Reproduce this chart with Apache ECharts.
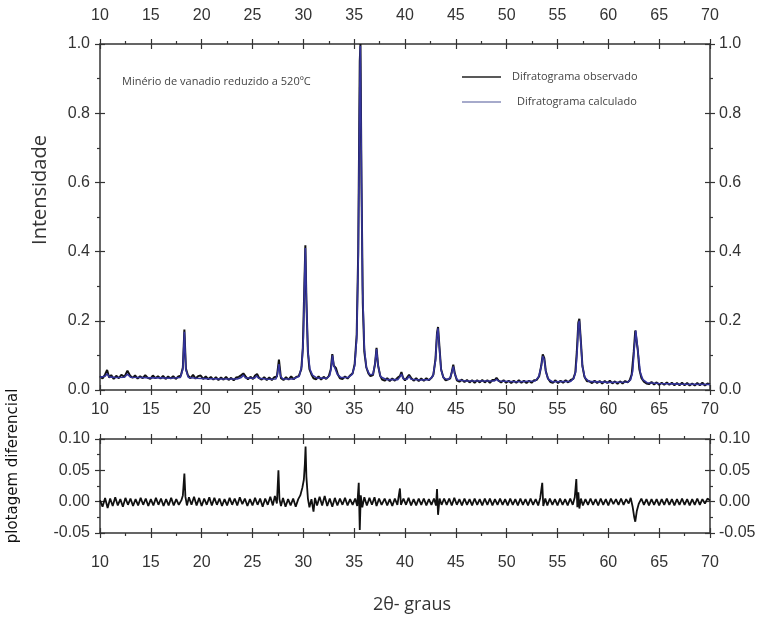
<!DOCTYPE html>
<html>
<head>
<meta charset="utf-8">
<script src="https://cdn.jsdelivr.net/npm/echarts@6/dist/echarts.min.js"></script>
<style>
html,body{margin:0;padding:0;background:#fff;}
#chart{width:769px;height:625px;}
</style>
</head>
<body>
<div id="chart"></div>
<script>
// ---- tick labels ----
var xTicks = [10, 15, 20, 25, 30, 35, 40, 45, 50, 55, 60, 65, 70];
var yTicksTop = [0.0, 0.2, 0.4, 0.6, 0.8, 1.0];
var yTicksDiff = [-0.05, 0.00, 0.05, 0.10];

// ---- series names ----
var seriesNames = ['Difratograma observado', 'Difratograma calculado', 'plotagem diferencial'];

// ---- observed diffractogram [2theta, intensity] ----
var observed = [
[10.0,0.040],[10.25,0.033],[10.5,0.045],[10.7,0.058],[10.9,0.036],[11.1,0.043],[11.35,0.032],[11.6,0.041],[11.85,0.034],[12.1,0.044],[12.4,0.038],[12.7,0.056],[12.95,0.042],[13.2,0.035],[13.45,0.042],[13.7,0.033],[13.95,0.040],[14.2,0.034],[14.45,0.043],[14.7,0.035],[14.95,0.032],[15.2,0.042],[15.45,0.034],[15.7,0.040],[15.95,0.033],[16.2,0.041],[16.45,0.032],[16.7,0.039],[16.95,0.033],[17.2,0.040],[17.45,0.032],[17.7,0.039],[17.95,0.041],[18.15,0.065],[18.3,0.175],[18.45,0.062],[18.65,0.042],[18.9,0.034],[19.15,0.044],[19.4,0.033],[19.65,0.040],[19.9,0.042],[20.15,0.032],[20.4,0.039],[20.65,0.031],[20.9,0.038],[21.15,0.030],[21.4,0.037],[21.65,0.029],[21.9,0.036],[22.15,0.030],[22.4,0.038],[22.65,0.029],[22.9,0.035],[23.15,0.028],[23.4,0.036],[23.65,0.038],[23.9,0.043],[24.1,0.048],[24.3,0.040],[24.55,0.031],[24.8,0.038],[25.05,0.032],[25.25,0.042],[25.45,0.046],[25.65,0.035],[25.9,0.030],[26.15,0.037],[26.4,0.029],[26.65,0.036],[26.9,0.029],[27.15,0.037],[27.4,0.039],[27.6,0.088],[27.8,0.034],[28.05,0.029],[28.3,0.037],[28.55,0.030],[28.8,0.039],[29.05,0.031],[29.3,0.038],[29.55,0.040],[29.8,0.060],[29.95,0.120],[30.1,0.300],[30.2,0.418],[30.3,0.260],[30.45,0.110],[30.6,0.060],[30.8,0.045],[31.0,0.034],[31.25,0.031],[31.5,0.039],[31.75,0.030],[32.0,0.038],[32.25,0.032],[32.5,0.040],[32.7,0.060],[32.85,0.104],[33.0,0.070],[33.2,0.064],[33.4,0.045],[33.6,0.034],[33.85,0.032],[34.1,0.039],[34.35,0.033],[34.6,0.042],[34.85,0.048],[35.05,0.075],[35.25,0.160],[35.4,0.400],[35.55,0.950],[35.62,1.000],[35.72,0.600],[35.85,0.250],[36.0,0.110],[36.2,0.065],[36.4,0.048],[36.6,0.040],[36.85,0.043],[37.05,0.075],[37.2,0.122],[37.35,0.072],[37.55,0.042],[37.75,0.030],[38.0,0.027],[38.25,0.034],[38.5,0.026],[38.75,0.033],[39.0,0.027],[39.25,0.035],[39.5,0.040],[39.65,0.052],[39.8,0.036],[40.0,0.028],[40.2,0.036],[40.4,0.044],[40.6,0.035],[40.85,0.027],[41.1,0.034],[41.35,0.026],[41.6,0.033],[41.85,0.027],[42.1,0.034],[42.35,0.028],[42.6,0.035],[42.8,0.045],[43.0,0.090],[43.15,0.165],[43.25,0.182],[43.4,0.120],[43.55,0.060],[43.75,0.038],[44.0,0.028],[44.25,0.031],[44.45,0.034],[44.6,0.052],[44.75,0.073],[44.9,0.048],[45.1,0.028],[45.35,0.024],[45.6,0.030],[45.85,0.023],[46.1,0.029],[46.35,0.022],[46.6,0.028],[46.85,0.021],[47.1,0.028],[47.35,0.022],[47.6,0.029],[47.85,0.022],[48.1,0.028],[48.35,0.021],[48.6,0.029],[48.85,0.029],[49.0,0.035],[49.2,0.027],[49.45,0.022],[49.7,0.028],[49.95,0.021],[50.2,0.027],[50.45,0.020],[50.7,0.027],[50.95,0.021],[51.2,0.028],[51.45,0.021],[51.7,0.027],[51.95,0.020],[52.2,0.027],[52.45,0.021],[52.7,0.028],[52.95,0.029],[53.2,0.040],[53.4,0.070],[53.55,0.103],[53.7,0.092],[53.85,0.055],[54.05,0.034],[54.3,0.023],[54.55,0.021],[54.8,0.028],[55.05,0.020],[55.3,0.027],[55.55,0.021],[55.8,0.028],[56.05,0.022],[56.3,0.029],[56.55,0.032],[56.75,0.050],[56.9,0.110],[57.05,0.195],[57.15,0.206],[57.3,0.140],[57.45,0.070],[57.65,0.038],[57.9,0.025],[58.15,0.025],[58.4,0.020],[58.65,0.027],[58.9,0.020],[59.15,0.026],[59.4,0.019],[59.65,0.026],[59.9,0.020],[60.15,0.027],[60.4,0.019],[60.65,0.025],[60.9,0.018],[61.15,0.025],[61.4,0.019],[61.65,0.026],[61.9,0.022],[62.1,0.028],[62.3,0.045],[62.5,0.110],[62.65,0.172],[62.75,0.176],[62.9,0.115],[63.05,0.060],[63.25,0.035],[63.5,0.024],[63.75,0.019],[64.0,0.017],[64.25,0.023],[64.5,0.016],[64.75,0.022],[65.0,0.015],[65.25,0.021],[65.5,0.015],[65.75,0.022],[66.0,0.015],[66.25,0.021],[66.5,0.014],[66.75,0.020],[67.0,0.014],[67.25,0.021],[67.5,0.014],[67.75,0.020],[68.0,0.013],[68.25,0.019],[68.5,0.013],[68.75,0.020],[69.0,0.014],[69.25,0.021],[69.5,0.013],[69.75,0.019],[70.0,0.016]
];

// ---- calculated diffractogram [2theta, intensity] ----
var calculated = [
[10,0.037],[10.5,0.040],[10.7,0.047],[10.9,0.038],[11.5,0.036],[12.4,0.037],[12.7,0.046],[13.0,0.037],[14,0.036],[15,0.035],[16,0.035],[17,0.034],[17.9,0.036],[18.15,0.060],[18.3,0.168],[18.45,0.058],[18.7,0.036],[19.5,0.034],[20.5,0.033],[22,0.032],[23.5,0.032],[23.9,0.036],[24.1,0.043],[24.3,0.035],[25.2,0.034],[25.4,0.041],[25.6,0.034],[26.5,0.031],[27.3,0.032],[27.45,0.045],[27.6,0.075],[27.75,0.040],[28,0.032],[29,0.032],[29.6,0.040],[29.85,0.070],[30.0,0.150],[30.1,0.290],[30.2,0.410],[30.3,0.260],[30.45,0.110],[30.65,0.060],[30.9,0.043],[31.3,0.035],[32.3,0.034],[32.6,0.042],[32.75,0.065],[32.87,0.100],[33.0,0.070],[33.15,0.060],[33.35,0.045],[33.7,0.036],[34.4,0.036],[34.8,0.045],[35.05,0.070],[35.25,0.150],[35.4,0.380],[35.52,0.800],[35.6,0.995],[35.7,0.680],[35.82,0.300],[36.0,0.120],[36.2,0.065],[36.5,0.045],[36.85,0.045],[37.05,0.075],[37.2,0.118],[37.35,0.070],[37.6,0.038],[38.2,0.030],[39.3,0.030],[39.5,0.038],[39.65,0.046],[39.85,0.032],[40.2,0.031],[40.4,0.040],[40.6,0.031],[41.5,0.029],[42.4,0.030],[42.75,0.040],[43.0,0.085],[43.15,0.160],[43.25,0.178],[43.4,0.115],[43.55,0.058],[43.8,0.035],[44.2,0.030],[44.45,0.036],[44.6,0.050],[44.75,0.068],[44.9,0.045],[45.15,0.029],[46,0.026],[48.8,0.026],[49.0,0.031],[49.2,0.026],[51,0.024],[52.8,0.026],[53.15,0.038],[53.4,0.068],[53.55,0.098],[53.7,0.088],[53.85,0.052],[54.1,0.031],[54.5,0.024],[56.3,0.025],[56.6,0.034],[56.8,0.055],[56.95,0.120],[57.05,0.190],[57.15,0.200],[57.3,0.135],[57.45,0.068],[57.7,0.035],[58.1,0.025],[60,0.022],[61.9,0.023],[62.2,0.030],[62.4,0.055],[62.55,0.120],[62.7,0.172],[62.8,0.168],[62.95,0.100],[63.15,0.050],[63.4,0.030],[63.8,0.021],[65,0.019],[67,0.017],[70,0.016]
];

// ---- difference plot [2theta, obs - calc] ----
var difference = [
[10.0,0.002],[10.25,-0.008],[10.5,0.006],[10.75,-0.010],[11.0,0.005],[11.25,-0.007],[11.5,0.007],[11.75,-0.006],[12.0,0.004],[12.25,-0.008],[12.5,0.006],[12.75,-0.005],[13.0,0.005],[13.25,-0.007],[13.5,0.004],[13.75,-0.006],[14.0,0.006],[14.25,-0.005],[14.5,0.005],[14.75,-0.007],[15.0,0.004],[15.25,-0.006],[15.5,0.006],[15.75,-0.005],[16.0,0.005],[16.25,-0.007],[16.5,0.004],[16.75,-0.006],[17.0,0.006],[17.25,-0.006],[17.5,0.004],[17.75,-0.005],[18.0,0.002],[18.15,0.010],[18.3,0.045],[18.4,0.008],[18.55,-0.006],[18.75,0.007],[19.0,-0.005],[19.25,0.008],[19.5,-0.006],[19.75,0.006],[20.0,-0.007],[20.25,0.005],[20.5,-0.005],[20.75,0.007],[21.0,-0.006],[21.25,0.006],[21.5,-0.005],[21.75,0.005],[22.0,-0.007],[22.25,0.004],[22.5,-0.006],[22.75,0.006],[23.0,-0.005],[23.25,0.005],[23.5,-0.006],[23.75,0.007],[24.0,-0.004],[24.25,0.005],[24.5,-0.007],[24.75,0.004],[25.0,-0.006],[25.25,0.006],[25.5,-0.005],[25.75,0.005],[26.0,-0.008],[26.25,0.005],[26.5,-0.005],[26.75,0.008],[27.0,-0.006],[27.2,0.009],[27.4,-0.003],[27.55,0.050],[27.65,0.004],[27.8,-0.007],[28.0,0.006],[28.25,-0.008],[28.5,0.004],[28.75,-0.006],[29.0,0.005],[29.25,-0.008],[29.5,0.004],[29.7,0.010],[29.9,0.022],[30.05,0.035],[30.15,0.060],[30.22,0.088],[30.3,0.040],[30.45,0.005],[30.6,-0.009],[30.8,0.004],[31.0,-0.016],[31.15,0.006],[31.35,-0.006],[31.6,0.008],[31.85,-0.006],[32.1,0.009],[32.35,-0.007],[32.6,0.005],[32.85,-0.008],[33.1,0.006],[33.35,-0.006],[33.6,0.005],[33.85,-0.005],[34.1,0.006],[34.35,-0.006],[34.6,0.004],[34.85,-0.005],[35.1,0.005],[35.3,-0.007],[35.45,0.030],[35.55,-0.045],[35.65,0.010],[35.8,-0.009],[36.0,0.007],[36.25,-0.006],[36.5,0.006],[36.75,-0.005],[37.0,0.007],[37.2,-0.007],[37.45,0.005],[37.7,-0.005],[38.0,0.005],[38.25,-0.006],[38.5,0.004],[38.75,-0.007],[39.0,0.005],[39.25,-0.005],[39.5,0.021],[39.6,-0.005],[39.85,0.005],[40.1,-0.005],[40.35,0.006],[40.6,-0.006],[40.85,0.004],[41.1,-0.006],[41.35,0.005],[41.6,-0.005],[41.85,0.005],[42.1,-0.006],[42.35,0.004],[42.6,-0.005],[42.85,0.005],[43.05,-0.006],[43.15,0.020],[43.25,-0.021],[43.4,0.005],[43.6,-0.005],[43.85,0.005],[44.1,-0.005],[44.35,0.005],[44.6,-0.006],[44.85,0.006],[45.1,-0.005],[45.35,0.004],[45.6,-0.006],[45.85,0.005],[46.1,-0.005],[46.35,0.004],[46.6,-0.006],[46.85,0.005],[47.1,-0.005],[47.35,0.004],[47.6,-0.006],[47.85,0.005],[48.1,-0.005],[48.35,0.005],[48.6,-0.006],[48.85,0.004],[49.1,-0.005],[49.35,0.005],[49.6,-0.005],[49.85,0.004],[50.1,-0.006],[50.35,0.005],[50.6,-0.005],[50.85,0.004],[51.1,-0.006],[51.35,0.005],[51.6,-0.005],[51.85,0.004],[52.1,-0.006],[52.35,0.005],[52.6,-0.005],[52.85,0.004],[53.1,-0.006],[53.3,0.006],[53.5,0.030],[53.6,-0.007],[53.8,0.005],[54.0,-0.006],[54.25,0.005],[54.5,-0.005],[54.75,0.004],[55.0,-0.006],[55.25,0.005],[55.5,-0.005],[55.75,0.004],[56.0,-0.006],[56.25,0.005],[56.5,-0.005],[56.7,0.007],[56.85,0.036],[56.95,-0.009],[57.05,0.015],[57.15,-0.011],[57.3,0.005],[57.5,-0.006],[57.75,0.004],[58.0,-0.005],[58.25,0.005],[58.5,-0.005],[58.75,0.004],[59.0,-0.006],[59.25,0.005],[59.5,-0.005],[59.75,0.004],[60.0,-0.006],[60.25,0.005],[60.5,-0.004],[60.75,0.004],[61.0,-0.005],[61.25,0.005],[61.5,-0.005],[61.75,0.004],[62.0,-0.003],[62.2,0.006],[62.4,-0.009],[62.55,-0.025],[62.65,-0.032],[62.8,-0.015],[63.0,-0.003],[63.25,0.005],[63.5,-0.005],[63.75,0.004],[64.0,-0.006],[64.25,0.004],[64.5,-0.005],[64.75,0.004],[65.0,-0.006],[65.25,0.004],[65.5,-0.005],[65.75,0.005],[66.0,-0.005],[66.25,0.004],[66.5,-0.006],[66.75,0.004],[67.0,-0.005],[67.25,0.005],[67.5,-0.005],[67.75,0.004],[68.0,-0.006],[68.25,0.004],[68.5,-0.005],[68.75,0.005],[69.0,-0.005],[69.25,0.004],[69.5,-0.003],[69.75,0.005],[70.0,0.002]
];

// ---- build chart ----
var AX = '#333';
var LBL = {fontFamily: 'Liberation Sans, Arial, sans-serif', fontSize: 16, color: '#333'};
var xMin = xTicks[0], xMax = xTicks[xTicks.length - 1], xInt = xTicks[1] - xTicks[0];
var yTopMin = yTicksTop[0], yTopMax = yTicksTop[yTicksTop.length - 1], yTopInt = yTicksTop[1] - yTicksTop[0];
var yDMin = yTicksDiff[0], yDMax = yTicksDiff[yTicksDiff.length - 1], yDInt = yTicksDiff[1] - yTicksDiff[0];

function mkX(grid, pos, showLabel, inside, margin, drawLine) {
  return {
    type: 'value', gridIndex: grid, position: pos,
    min: xMin, max: xMax, interval: xInt,
    axisLine: {show: drawLine, onZero: false, lineStyle: {color: AX, width: 1.5}},
    axisTick: {show: true, inside: inside, length: 5, lineStyle: {color: AX, width: 1.2}},
    minorTick: {show: !inside, splitNumber: 2, length: 3, lineStyle: {color: AX, width: 1.2}},
    axisLabel: Object.assign({show: showLabel, margin: margin, formatter: function (v) { return String(v); }}, LBL),
    splitLine: {show: false}
  };
}
function mkY(grid, pos, showLabel, inside, margin, drawLine, mn, mx, itv, dec) {
  return {
    type: 'value', gridIndex: grid, position: pos,
    min: mn, max: mx, interval: itv,
    axisLine: {show: drawLine, onZero: false, lineStyle: {color: AX, width: 1.5}},
    axisTick: {show: true, inside: inside, length: 5, lineStyle: {color: AX, width: 1.2}},
    minorTick: {show: !inside, splitNumber: 2, length: 3, lineStyle: {color: AX, width: 1.2}},
    axisLabel: Object.assign({show: showLabel, margin: margin, formatter: function (v) { return (Math.abs(v) < 1e-9 ? 0 : v).toFixed(dec); }}, LBL),
    splitLine: {show: false}
  };
}

var option = {
  animation: false,
  backgroundColor: '#fff',
  grid: [
    {left: 100, right: 59, top: 44, height: 346},
    {left: 100, right: 59, top: 439, height: 94}
  ],
  xAxis: [
    mkX(0, 'bottom', true, false, 12, true),
    mkX(0, 'top', true, false, 20, true),
    mkX(0, 'bottom', false, true, 8, false),
    mkX(0, 'top', false, true, 8, false),
    mkX(1, 'bottom', true, false, 22, true),
    mkX(1, 'top', false, false, 8, true),
    mkX(1, 'bottom', false, true, 8, false),
    mkX(1, 'top', false, true, 8, false)
  ],
  yAxis: [
    mkY(0, 'left', true, false, 10, true, yTopMin, yTopMax, yTopInt, 1),
    mkY(0, 'right', true, false, 9, true, yTopMin, yTopMax, yTopInt, 1),
    mkY(0, 'left', false, true, 8, false, yTopMin, yTopMax, yTopInt, 1),
    mkY(0, 'right', false, true, 8, false, yTopMin, yTopMax, yTopInt, 1),
    mkY(1, 'left', true, false, 10, true, yDMin, yDMax, yDInt, 2),
    mkY(1, 'right', true, false, 9, true, yDMin, yDMax, yDInt, 2),
    mkY(1, 'left', false, true, 8, false, yDMin, yDMax, yDInt, 2),
    mkY(1, 'right', false, true, 8, false, yDMin, yDMax, yDInt, 2)
  ],
  series: [
    {name: seriesNames[0], type: 'line', xAxisIndex: 0, yAxisIndex: 0, data: observed,
     symbol: 'none', lineStyle: {color: '#111', width: 2}, z: 2},
    {name: seriesNames[1], type: 'line', xAxisIndex: 0, yAxisIndex: 0, data: calculated,
     symbol: 'none', lineStyle: {color: '#34349c', width: 1.6}, z: 3},
    {name: seriesNames[2], type: 'line', xAxisIndex: 4, yAxisIndex: 4, data: difference,
     symbol: 'none', lineStyle: {color: '#111', width: 1.8}, z: 2}
  ],
  graphic: [
    {type: 'text', x: 40, y: 190, rotation: Math.PI / 2,
     style: {text: 'Intensidade', font: '20px "Open Sans", sans-serif', fill: '#333', textAlign: 'center', textVerticalAlign: 'middle'}},
    {type: 'text', x: 13, y: 466, rotation: Math.PI / 2,
     style: {text: 'plotagem diferencial', font: '15px "DejaVu Sans", sans-serif', fill: '#111', textAlign: 'center', textVerticalAlign: 'middle'}},
    {type: 'text', x: 412, y: 605,
     style: {text: '2θ- graus', font: '18px "Open Sans", sans-serif', fill: '#333', textAlign: 'center', textVerticalAlign: 'middle'}},
    {type: 'text', x: 122, y: 82,
     style: {text: 'Minério de vanadio reduzido a 520ºC', font: '11px "Open Sans", sans-serif', fill: '#444', textAlign: 'left', textVerticalAlign: 'middle'}},
    {type: 'line', shape: {x1: 462, y1: 77, x2: 501, y2: 77}, style: {stroke: '#222', lineWidth: 1.5}},
    {type: 'text', x: 512, y: 77,
     style: {text: seriesNames[0], font: '11px "Open Sans", sans-serif', fill: '#444', textAlign: 'left', textVerticalAlign: 'middle'}},
    {type: 'line', shape: {x1: 462, y1: 102, x2: 501, y2: 102}, style: {stroke: '#a6aacb', lineWidth: 2}},
    {type: 'text', x: 517, y: 102,
     style: {text: seriesNames[1], font: '11px "Open Sans", sans-serif', fill: '#444', textAlign: 'left', textVerticalAlign: 'middle'}}
  ]
};

var chart = echarts.init(document.getElementById('chart'), null, {renderer: 'canvas'});
chart.setOption(option);
</script>
</body>
</html>
